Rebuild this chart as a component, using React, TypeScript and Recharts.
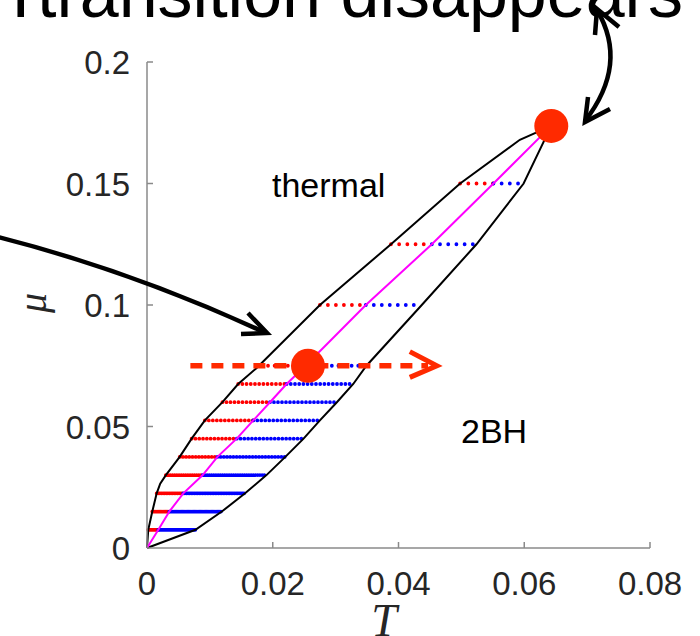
import React from "react";
import { ComposedChart, Line, XAxis, YAxis, Scatter } from "recharts";

// ---- data (T, mu) ----
const X_TICKS = [0, 0.02, 0.04, 0.06, 0.08];
const Y_TICKS = [0, 0.05, 0.1, 0.15, 0.2];

// thermal-side (upper/left) boundary of the coexistence region
const UPPER_T = [0, 0.0002, 0.00084, 0.00154, 0.0021, 0.003, 0.0052, 0.0071, 0.0092, 0.012, 0.0145, 0.0174, 0.0275, 0.0388, 0.0498, 0.0593, 0.0643];
const UPPER_MU = [0, 0.0075, 0.015, 0.0225, 0.0265, 0.03, 0.0375, 0.045, 0.0525, 0.06, 0.0675, 0.074, 0.1, 0.125, 0.15, 0.168, 0.1737];

// 2BH-side (lower/right) boundary
const LOWER_T = [0, 0.0077, 0.0119, 0.0156, 0.019, 0.022, 0.0249, 0.0275, 0.0302, 0.0328, 0.0349, 0.0437, 0.0524, 0.0599, 0.0643];
const LOWER_MU = [0, 0.0075, 0.015, 0.0225, 0.03, 0.0375, 0.045, 0.0525, 0.06, 0.0675, 0.075, 0.1, 0.125, 0.15, 0.1737];

// magenta transition line
const MID_T = [0, 0.0018, 0.00355, 0.00577, 0.00886, 0.0112, 0.01427, 0.0169, 0.01956, 0.0222, 0.0252, 0.0348, 0.0453, 0.0551, 0.0643];
const MID_MU = [0, 0.0075, 0.015, 0.0225, 0.03, 0.0375, 0.045, 0.0525, 0.06, 0.0675, 0.075, 0.1, 0.125, 0.15, 0.1737];

// horizontal scan levels: red part (thermal -> transition), blue part (transition -> 2BH)
const LEVEL_MU = [0.0075, 0.015, 0.0225, 0.03, 0.0375, 0.045, 0.0525, 0.06, 0.0675, 0.075, 0.1, 0.125, 0.15];
const LEVEL_RED_START = [0.0002, 0.00084, 0.00154, 0.003, 0.0052, 0.0071, 0.0092, 0.012, 0.0145, 0.0182, 0.0275, 0.0388, 0.0498];
const LEVEL_MID = [0.0018, 0.00355, 0.00577, 0.00886, 0.0112, 0.01427, 0.0169, 0.01956, 0.0222, 0.0252, 0.0348, 0.0453, 0.0551];
const LEVEL_BLUE_END = [0.0077, 0.0119, 0.0156, 0.019, 0.022, 0.0249, 0.0275, 0.0302, 0.0328, 0.0349, 0.0437, 0.0524, 0.0599];

// critical points (big red dots)
const CRIT_T = [0.0256, 0.0643];
const CRIT_MU = [0.075, 0.1737];

// dashed scan arrow at mu = 0.075
const SCAN_T = [0.0069, 0.0447];
const SCAN_MU = [0.075, 0.075];
const HEAD_T = [0.0418, 0.0461, 0.0418];
const HEAD_MU = [0.0808, 0.075, 0.0702];

// style per level (dot spacing in px)
const LEVEL_GAP = [1, 1.2, 1.6, 2.2, 3.2, 3.8, 4, 4, 4.2, 6.6, 8, 8.2, 8.2];

const zip = (ts: number[], ms: number[]) => ts.map((T, i) => ({ T, mu: ms[i] }));

const upper = zip(UPPER_T, UPPER_MU);
const lower = zip(LOWER_T, LOWER_MU);
const mid = zip(MID_T, MID_MU);
const crit = zip(CRIT_T, CRIT_MU);
const scan = zip(SCAN_T, SCAN_MU);
const head = zip(HEAD_T, HEAD_MU);

const FONT = "'Liberation Sans', Arial, Helvetica, sans-serif";
const SERIF = "'Liberation Serif', 'DejaVu Serif', serif";
const AXIS = "#8a8a8a";
const TXT = "#262626";
const ORANGE = "#ff2a00";

const fmt = (v: number) => (v === 0 ? "0" : String(v));

const XTick = (p: any) => {
  const { x, y, payload } = p;
  return (
    <g>
      {payload.value !== 0 && <line x1={x} y1={y} x2={x} y2={y - 6} stroke={AXIS} strokeWidth={1.5} />}
      <text x={x} y={y + 47} textAnchor="middle" fontFamily={FONT} fontSize={33} fill={TXT}>
        {fmt(payload.value)}
      </text>
    </g>
  );
};

const YTick = (p: any) => {
  const { x, y, payload } = p;
  return (
    <g>
      {payload.value !== 0 && <line x1={x} y1={y} x2={x + 6} y2={y} stroke={AXIS} strokeWidth={1.5} />}
      <text x={x - 17} y={y + 12} textAnchor="end" fontFamily={FONT} fontSize={33} fill={TXT}>
        {fmt(payload.value)}
      </text>
    </g>
  );
};

const BigDot = (p: any) => <circle cx={p.cx} cy={p.cy} r={17} fill={ORANGE} />;

export default function App() {
  return (
    <div style={{ position: "absolute", left: 0, top: 0, width: 700, height: 636, background: "#fff", overflow: "hidden" }}>
      <ComposedChart
        width={700}
        height={636}
        margin={{ top: 62, right: 50, bottom: 87, left: 146 }}
        style={{ position: "absolute", left: 0, top: 0 }}
      >
        <XAxis
          dataKey="T"
          type="number"
          domain={[0, 0.08]}
          ticks={X_TICKS}
          height={1}
          tickSize={0}
          tickMargin={0}
          tickLine={false}
          axisLine={{ stroke: AXIS, strokeWidth: 1.5 }}
          tick={XTick}
          interval={0}
        />
        <YAxis
          dataKey="mu"
          type="number"
          domain={[0, 0.2]}
          ticks={Y_TICKS}
          width={1}
          tickSize={0}
          tickMargin={0}
          tickLine={false}
          axisLine={{ stroke: AXIS, strokeWidth: 1.5 }}
          tick={YTick}
          interval={0}
        />
        {LEVEL_MU.map((m, i) => (
          <Line
            key={"r" + i}
            data={[{ T: LEVEL_RED_START[i], mu: m }, { T: LEVEL_MID[i], mu: m }]}
            dataKey="mu"
            stroke="#ff0000"
            strokeWidth={3.8}
            strokeLinecap="round"
            strokeDasharray={`0 ${LEVEL_GAP[i]}`}
            dot={false}
            activeDot={false}
            isAnimationActive={false}
          />
        ))}
        {LEVEL_MU.map((m, i) => (
          <Line
            key={"b" + i}
            data={[{ T: LEVEL_MID[i], mu: m }, { T: LEVEL_BLUE_END[i], mu: m }]}
            dataKey="mu"
            stroke="#0000ff"
            strokeWidth={3.8}
            strokeLinecap="round"
            strokeDasharray={`0 ${LEVEL_GAP[i]}`}
            dot={false}
            activeDot={false}
            isAnimationActive={false}
          />
        ))}
        <Line data={upper} dataKey="mu" stroke="#000" strokeWidth={2} dot={false} activeDot={false} isAnimationActive={false} />
        <Line data={lower} dataKey="mu" stroke="#000" strokeWidth={2} dot={false} activeDot={false} isAnimationActive={false} />
        <Line data={mid} dataKey="mu" stroke="#ff00ff" strokeWidth={2} dot={false} activeDot={false} isAnimationActive={false} />
        <Line
          data={scan}
          dataKey="mu"
          stroke={ORANGE}
          strokeWidth={5.5}
          strokeDasharray="12 9"
          dot={false}
          activeDot={false}
          isAnimationActive={false}
        />
        <Line data={head} dataKey="mu" stroke={ORANGE} strokeWidth={5} dot={false} activeDot={false} isAnimationActive={false} />
        <Scatter data={crit} dataKey="mu" shape={BigDot} isAnimationActive={false} />
      </ComposedChart>
      <svg width={700} height={636} style={{ position: "absolute", left: 0, top: 0, pointerEvents: "none" }}>
        <text x={37} y={17} fontFamily={FONT} fontSize={70} fill="#000">transition disappears</text>
        <text x={11} y={17} fontFamily={FONT} fontSize={70} fill="#000">I</text>
        <text x={272} y={197} fontFamily={FONT} fontSize={34} fill="#000">thermal</text>
        <text x={461} y={443} fontFamily={FONT} fontSize={34} fill="#000">2BH</text>
        <text
          x={0}
          y={0}
          transform="translate(46,303) rotate(-90)"
          textAnchor="middle"
          fontFamily={SERIF}
          fontStyle="italic"
          fontSize={40}
          fill={TXT}
        >
          μ
        </text>
        <text x={384} y={636} textAnchor="middle" fontFamily={SERIF} fontStyle="italic" fontSize={46} fill={TXT}>
          T
        </text>
        {/* long curved arrow */}
        <path d="M -2 237 Q 132 271 266 333" fill="none" stroke="#000" strokeWidth={4.5} />
        <path d="M 248 313 L 267 333 L 241 334" fill="none" stroke="#000" strokeWidth={4.5} />
        {/* double-headed arrow */}
        <path d="M 597 10 Q 629 64 585 121" fill="none" stroke="#000" strokeWidth={4.5} />
        <path d="M 595 35 L 597 9 L 619 27" fill="none" stroke="#000" strokeWidth={4.5} />
        <path d="M 588 97 L 585 122 L 610 109" fill="none" stroke="#000" strokeWidth={4.5} />
      </svg>
    </div>
  );
}
